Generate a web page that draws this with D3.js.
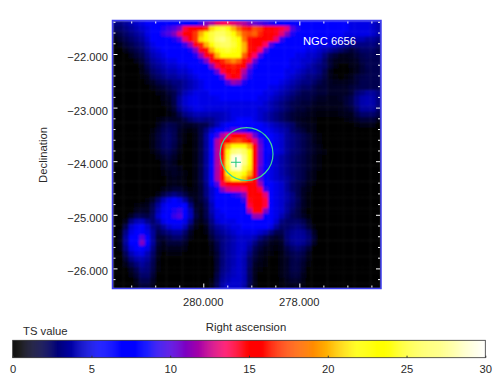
<!DOCTYPE html>
<html>
<head>
<meta charset="utf-8">
<script src="https://cdn.jsdelivr.net/npm/d3@7"></script>
<style>
  html, body { margin: 0; padding: 0; background: #fff; }
  text { font-family: "Liberation Sans", Arial, sans-serif; fill: #2a2a2a; }
</style>
</head>
<body>
<svg id="chart" width="500" height="392"></svg>
<script>
// TS map, one row per declination bin (top to bottom)
const tsMap = [
[3,3,3.5,4,4.5,5,5.5,5.5,5.5,5.5,6,6,6.5,7,7.5,8.5,9.5,11,12,13,13.5,13.5,13,12.5,12,11,10.5,10,9.5,9,8.5,8,7.5,7,6.5,6.5,6.5,6,6,6,6,6,5.5,5.5,5,5,5,5,4.5,4],
[2.5,2.5,3,3.5,4,4.5,5,6,8,9,9.5,10,11,14,15,15.5,15.5,16.5,21,24,25,23,20,18,16.5,16,17.5,17,15.5,15,14.5,14,13,10,9,8,7.5,7,6.5,6,6,6,5.5,5.5,5,5,5,5,4.5,4],
[1.5,2,2.5,3,3.5,4,5,6,8.5,9.5,10,11,13,15,15.5,17,20,22.5,25,26,26,25,23,20,18,17.5,18,16.5,15.5,15,14.5,13,11,9,8,7,6.5,6,6,6,6,5.5,5.5,5,5,5,5,5,4.5,4],
[1,1.5,2,2.5,3,3.5,4.5,5.5,6.5,7.5,8,9,10,13,15,17,21,23,25,26.5,27,26,24.5,22.5,18.5,16,15.5,15,15,14.8,13,9.5,8,7,6.5,6,5.5,5.5,5.5,5.5,5,5,5,4.5,4,4,4,3.5,3.5,3],
[.5,1,1.5,2,2.5,3,4,5,5.5,6,6.5,7,8,9.5,11.5,14.5,16.5,20,23,25.5,26,26,25,23.5,20,16,15.5,15,13.5,10,8.5,7.5,7,6.5,6,5.5,5.5,5.5,5,5,5,4.5,4,3.5,3,3,3,3,3,2.5],
[.3,.5,1,1.5,2,2.5,3.5,4.5,5,5.5,6,6,6.5,7.5,9,11,14.5,16,20,23,24.5,25,24,23,20,16,15,13.5,10,8.5,7.5,7,6.5,6,5.5,5.5,5,5,4.5,4,3.5,3,2.5,2,1.5,2,2.5,2.5,2.5,2],
[.2,.3,.5,1,1.5,2,3,4,4.5,5,5.5,5.5,6,6.5,8,9,11.5,14.5,16,20,22.5,23,23,22,18,15.5,13.5,10,8,7,6.5,6,5.5,5.5,5,5,4.5,4.5,4,3,2,1.5,1,1,1.2,1.5,2,2.2,2.2,2],
[.1,.2,.3,.5,1,1.5,2.5,3.5,4,4.5,5,5,5.5,6,6.5,7.5,9,11,14.5,15.5,16.5,18,19,18,16,14,10.5,8.5,7,6.5,6,5.5,5.5,5,5,4.5,4.5,4,3.5,2.5,1.5,1,.8,.8,1,1.2,1.8,2,2,2],
[0,.1,.2,.3,.5,1,2,3,3.5,4,4.5,4.5,5,5,5.5,6,7.5,8.5,11,14,15.5,16,16.5,16,14.8,11,9,7.5,6.5,6,5.5,5.5,5.5,5,5,4.5,4,3.5,3,2.5,1.5,.8,.5,.5,.8,1,1.5,2,2,2],
[0,0,.1,.2,.4,.8,1.5,2.5,3,3.5,4,4,4.5,4.5,5,5.5,6,7,8.5,10.5,14,15.5,16,15.5,12,9.5,8,7,6.5,6,5.5,5.5,5,5,4.5,4,3.5,3.5,3,2,1,.5,.4,.4,.6,1,1.5,1.8,2,2],
[0,0,0,.1,.3,.6,1,2,2.5,3,3.5,3.5,4,4,4.5,5,5.5,6,7,8,10,14,15,14.5,11,9,7.5,6.5,6,5.5,5.5,5.5,5,4.5,4,3.5,3,3,2.5,1.8,1,.6,.5,.6,1,1.5,1.8,2,2,2],
[0,0,0,.1,.2,.4,.8,1.2,1.8,2.2,2.5,3,3,3.5,4,4.5,5,5.5,6,6.5,8,10,11.5,11,9,7.5,6.5,6,5.5,5.5,5.5,5,4.5,4,3.5,3,3,2.5,2,1.5,1.2,1,1,1,1.2,1.5,2,2,2,2],
[0,0,0,0,.1,.3,.5,.8,1.2,1.5,2,2.5,3,3.5,4,4.5,5,5.5,5.5,6,6.5,7.5,8.5,8.5,7.5,7,6.5,6,5.5,5,5,4.5,4,3.5,3,2.5,2.5,2,1.5,1.5,1.2,1.2,1.2,1.2,1.5,1.8,2,2,2,2],
[0,0,0,0,.1,.2,.3,.5,.8,1,1.5,2,3,4,4.5,5,5,5,5.5,5.5,6,6.5,7,7,6.5,6,6,5.5,5,5,4.5,4,3.5,3,2.5,2,2,1.8,1.5,1.5,1.2,1.2,1.2,1.2,1.5,2.5,3,3.5,3.5,3],
[0,0,0,0,0,.1,.2,.3,.5,.8,1.2,2,3.5,4.5,5,5.2,5,5,5,5.2,5.5,5.5,5.5,5.5,5.5,5.5,5.5,5,5,4.5,4,3.5,3,2.5,2,1.8,1.8,1.5,1.2,1.2,1,1,1.2,1.5,2,3,3.8,4,3.8,3],
[0,0,0,0,0,.1,.1,.2,.4,.6,1,1.8,3.5,4.5,5,5.2,5,5,5,5,5,5,5,5,5,5,5,5,4.5,4,3.5,3,2.5,2,1.8,1.5,1.5,1.2,1,1,1,1,1,1.5,2,3,3.8,4,3.8,3],
[0,0,0,0,0,0,.1,.2,.3,.5,.8,1.5,3,4,4.5,5,5,4.8,4.8,4.8,4.8,4.8,5,5,5,5,5,4.5,4.5,4,3.5,3,2.5,2,1.5,1.5,1.2,1,.8,.8,.8,.8,1,1.2,1.5,2.5,3.5,3.5,3.5,2.5],
[0,0,0,0,0,0,.1,.2,.3,.5,.7,1,2,3,3.5,4,4,4,4,4,4.2,4.5,5,5,5,5,5,4.5,4,3.5,3,2.5,2,1.5,1.3,1.2,1,.8,.6,.6,.6,.6,.8,1,1,1.8,2.5,2.5,2.5,2],
[0,0,0,0,0,0,.1,.3,.6,1,1.2,1.2,1.3,1.8,2.5,3,3.2,3,3.2,3.8,4.2,4.5,5,5.5,5.5,5.5,5,4.5,4,3.5,3,2.5,2,1.5,1.2,1,.8,.6,.5,.4,.4,.4,.5,.6,.8,1.2,1.5,1.5,1.5,1],
[0,0,0,0,0,0,.1,.4,1,1.6,2,1.8,1.4,1.2,1.2,1.4,1.8,2,3,4,5,5.5,6,7,7.5,7.5,6.5,5.5,5,4.5,4,3.5,3,2.5,1.5,1.2,1,.8,.5,.3,.3,.3,.3,.3,.4,.6,.8,.8,.8,.5],
[0,0,0,0,0,0,.2,.6,1.3,2,2.3,2,1.2,.8,.6,1,1.8,3,4.5,6,7.5,9,10,10,9.5,8,7,6,5.5,5,4.5,4,3.5,2.5,2,1.5,1,.8,.5,.3,.2,.2,.2,.2,.2,.3,.4,.4,.3,.2],
[0,0,0,0,0,0,.3,.8,1.5,2.2,2.5,2,1.1,.6,.4,.8,1.8,3.5,6,9.5,12,13.5,15,15,14.5,13,10.5,8,6,5.5,5,4.5,3.5,3,2.5,2,1.5,1,.6,.3,.2,.2,.2,.2,.2,.2,.2,.2,.1,.1],
[0,0,0,0,0,0,.3,.8,1.5,2.2,2.5,2,1.2,.6,.4,.8,1.8,3.5,6,12,14.5,15,17,17.5,16.5,15,13,10,6.5,5.5,5,4.5,3.5,3,2.5,2,1.5,1,.6,.3,.2,.1,.1,.1,.1,.1,.1,.1,.1,.1],
[0,0,0,0,0,0,.3,.8,1.5,2.2,2.4,1.8,1,.5,.4,.8,1.8,3.5,6,12,15,20,23,23,23,20,15,10.5,6.5,5.5,5,4.5,3.5,3,2.5,2,1.5,1.2,.8,.5,.3,.2,.1,.1,.1,.1,.1,.1,.1,.1],
[0,0,0,0,0,0,.2,.6,1.2,1.8,2,1.5,.8,.4,.3,.8,1.8,3.5,6,12,15.5,22,26.5,27,26,22,15,10.5,6.5,5.5,5,4.5,3.5,2.8,2.5,2,1.5,1.2,.8,.6,.4,.2,.1,.1,.1,.1,.1,.1,.1,.1],
[0,0,0,0,0,0,.1,.3,.8,1.3,1.6,1.2,.6,.3,.3,.8,1.8,3.5,6,12,16,24,29,29.5,27,22.5,15,10.5,6.5,5,4.5,3.8,3.2,2.6,2.2,1.8,1.4,1,.7,.5,.3,.1,.1,0,0,0,0,0,0,0],
[0,0,0,0,0,0,.1,.2,.5,1,1.3,1,.5,.3,.3,.8,1.8,3.5,6,12,16.5,25,29.5,30,27,22,15,10.5,6.5,5,4.5,3.8,3.2,2.6,2.2,1.8,1.4,1,.7,.5,.3,.1,0,0,0,0,0,0,0,0],
[0,0,0,0,0,0,.1,.2,.5,.8,1.2,1.2,.8,.5,.3,.8,1.8,3.5,6,12,16,24,28.5,29,25.5,21.5,15,10,6.5,5,4.5,3.8,3.2,2.6,2.2,1.8,1.4,1,.6,.4,.2,.1,0,0,0,0,0,0,0,0],
[0,0,0,0,0,0,.1,.2,.4,.6,1,1.2,1,.7,.4,.8,1.8,3.5,6,12,15.5,22,24.5,25,23.5,20,15,10,6,5,4.5,3.8,3.2,2.6,2.2,1.8,1.2,.8,.5,.3,.1,0,0,0,0,0,0,0,0,0],
[0,0,0,0,0,0,.1,.2,.3,.5,.8,1,.8,.6,.4,.8,1.8,3.5,6,12,15,20,22,22,20.5,17.5,15,10,6,5,4.5,4,3.5,2.8,2.2,1.8,1.2,.8,.5,.3,.1,0,0,0,0,0,0,0,0,0],
[0,0,0,0,0,0,.1,.2,.3,.5,.8,1,.9,.6,.4,.8,1.6,3.2,5.5,10,14,15,15.3,15.3,15.3,15.3,15,11.5,7.5,5.5,5,4.5,3.5,2.5,2,1.5,1,.6,.3,.2,.1,0,0,0,0,0,0,0,0,0],
[0,0,0,0,0,0,0,.1,.3,.8,1.2,1.5,1.5,1,.6,.8,1.5,3,4.5,7.5,11,12.5,13,13,13.5,15,15.5,14,9.5,6,5,4.5,3.5,2.5,2,1.2,.8,.4,.2,.1,0,0,0,0,0,0,0,0,0,0],
[0,0,0,0,0,0,0,.2,.8,1.8,2.5,3,2.5,1.8,1,1,1.5,3,4.5,6,7.5,8.5,9,9.5,11,14.8,15.5,15.3,13,7.5,5,4.5,3.8,3,2,1.2,.6,.3,.1,0,0,0,0,0,0,0,0,0,0,0],
[0,0,.1,.2,.3,.4,.6,1.2,2.5,4,5,5.5,5,3.5,1.8,1,1.5,2.5,4.5,5.5,6,6.5,7,7.5,9.5,14.5,15.5,15.5,14,8,5,4.5,3.8,3,2.2,1.2,.6,.3,.1,0,0,0,0,0,0,0,0,0,0,0],
[0,0,.2,.3,.6,.8,1,2,3.5,5,6,7,6.5,5.5,3,1.2,1.2,2.2,4,5.5,5.5,6,6,6.5,8,14,15.5,15.5,14,7.5,5,4.5,3.5,2.8,2,1.2,.6,.3,.1,0,0,0,0,0,0,0,0,0,0,0],
[0,0,.2,.5,1,1.2,1.2,2.2,4,5.2,6.5,9,9.5,6,4,1.5,1,2,4,5,5.5,5.5,5.5,6,7,12,15.3,15.3,11,6.5,5,4.5,3.5,2.5,1.8,1,.5,.2,.1,0,0,0,0,0,0,0,0,0,0,0],
[0,0,.5,1.2,2,2,1.8,2.5,4.5,5.5,6.5,9.5,10,6,4.2,1.8,1,2,3.5,5,5,5.5,5.5,5.5,6,8.5,11.5,11.5,8.5,6,5,4,3,2.2,1.8,1.2,.6,.2,.1,0,0,0,0,0,0,0,0,0,0,0],
[0,.3,1,3,4,4.2,3.2,2.5,3.5,5,5.5,6.5,6.5,5,3.2,1.2,.8,1.5,3,4.5,5,5,5,5.5,5.5,7,8.5,8.5,7,5.5,4.5,3,2.5,2.5,2.5,2,1.2,.4,.1,0,0,0,0,0,0,0,0,0,0,0],
[0,.5,2,4.5,5.2,5.5,4.5,3,2.5,3.5,4.5,5,5,4,2,.8,.5,1,2.5,3.5,4,4.5,5,5,5.5,6,6.5,6.5,6,5,3.5,2.5,2.5,2.8,3,2.5,1.5,.6,.1,0,0,0,0,0,0,0,0,0,0,0],
[0,.8,3,5,6,6.5,5,3.5,2,2.5,3,3.5,3.5,2.5,1.2,.5,.3,.8,2,3,3.5,4,4.5,5,5,5,5,4.5,4,3,2,2,2.8,3.3,3.5,3.3,2.5,1.2,.3,0,0,0,0,0,0,0,0,0,0,0],
[0,1,3.5,5.5,8,10,5.5,3.5,1.5,1.5,2,2.5,2.5,1.8,.8,.3,.2,.5,1.5,2.5,3,3.5,4,4.5,4.5,4.5,4,3,2.2,1.5,1.2,1.5,2.8,3.5,3.6,3.5,2.8,1.5,.4,0,0,0,0,0,0,0,0,0,0,0],
[0,1,3.5,5.5,8.5,11,5.5,3.5,1.5,1,1.5,1.5,1.5,1.2,.5,.2,.1,.3,1,2,3,3.5,4,4.5,4.5,4,3,2,1.5,1,.8,1.2,2.5,3.2,3.5,3.2,2.5,1.2,.2,0,0,0,0,0,0,0,0,0,0,0],
[0,.8,3,5,5.5,5.5,5,3,1.2,.8,1,1,1,.8,.3,.1,0,.2,.8,1.8,3,3.5,4,4.5,4.5,3.5,2.2,1.5,1,.8,.6,1,1.8,2.5,2.8,2.3,1.5,.5,.1,0,0,0,0,0,0,0,0,0,0,0],
[0,.5,2.2,4,4.8,5,4,2.5,1,.5,.6,.6,.6,.5,.2,.1,0,.1,.6,1.5,2.8,3.5,4,4.5,4.2,3,1.8,1.2,.8,.6,.5,.8,1.5,2,2.2,1.8,1,.3,.1,0,0,0,0,0,0,0,0,0,0,0],
[0,.3,1.5,3,3.8,4,3.5,2.2,.8,.4,.4,.3,.3,.2,.1,0,0,.1,.5,1.5,2.8,3.5,4,4.5,4,2.5,1.5,1,.6,.5,.5,.8,1.2,1.8,2,1.5,.8,.2,0,0,0,0,0,0,0,0,0,0,0,0],
[0,.2,1,2,2.8,3.5,3,2,.7,.3,.2,.2,.1,.1,0,0,0,.1,.4,1.5,2.8,3.5,4,4.5,4,2.5,1.2,.8,.6,.5,.5,.8,1.2,1.8,1.8,1.3,.6,.2,0,0,0,0,0,0,0,0,0,0,0,0],
[0,.1,.5,1.2,2,3,2.8,1.8,.6,.2,.1,.1,0,0,0,0,0,.1,.4,1.5,3,3.5,4.2,4.5,4,2.2,1,.6,.5,.5,.5,.8,1.2,1.8,1.8,1.2,.5,.1,0,0,0,0,0,0,0,0,0,0,0,0],
[0,0,.2,.8,1.5,2.5,2.5,1.5,.5,.2,.1,0,0,0,0,0,0,.1,.5,1.8,3.2,3.8,4.2,4.5,4,2.2,1,.5,.4,.4,.5,.8,1.2,1.6,1.6,1,.4,.1,0,0,0,0,0,0,0,0,0,0,0,0],
[0,0,.1,.5,1,2,2,1.2,.4,.1,0,0,0,0,0,0,0,.2,.7,2,3.5,4,4.5,4.5,4,2.2,1,.5,.4,.4,.5,.7,1,1.3,1.3,.8,.3,.1,0,0,0,0,0,0,0,0,0,0,0,0],
[0,0,.1,.3,.8,1.5,1.5,1,.3,.1,0,0,0,0,0,0,0,.2,.8,2.2,3.8,4.5,4.5,4.5,3.8,2,.8,.4,.3,.4,.5,.6,.8,1,1,.6,.2,.1,0,0,0,0,0,0,0,0,0,0,0,0]
];
const gridSize = 50;

// axis ticks
const raMajor = [280, 278];
const raMinor = [281.5, 281, 280.5, 279.5, 279, 278.5, 277.5, 277, 276.5];
const decMajor = [-22, -23, -24, -25, -26];
const decMinor = [-21.4, -21.6, -21.8, -22.2, -22.4, -22.6, -22.8, -23.2, -23.4, -23.6, -23.8,
  -24.2, -24.4, -24.6, -24.8, -25.2, -25.4, -25.6, -25.8, -26.2];
const barTicks = [0, 5, 10, 15, 20, 25, 30];

// colour table of the TS scale
const colorStops = [0, 0.4, 5.5, 8.5, 10, 12, 13.5, 14.8, 15.7, 21.8, 23.5, 30];
const colorValues = ["#000000", "#000000", "#0000ff", "#0000ff", "#5000e0", "#b000a0", "#ff0060", "#ff0000", "#ff0000", "#ffff00", "#ffff00", "#ffffff"];

// source position and region of interest (degrees)
const sourceRa = 279.32, sourceDec = -24.02;
const roiRa = 279.1, roiDec = -23.866, roiRadius = 0.494;

const margin = {top: 20.5, left: 112.5, right: 381, bottom: 288.5};
const bar = {left: 12.7, right: 485.3, top: 340.3, bottom: 357.7};

const svg = d3.select("#chart");
const color = d3.scaleLinear().domain(colorStops).range(colorValues).clamp(true);

const x = d3.scaleLinear().domain([281.89, 276.3]).range([margin.left, margin.right]);
const y = d3.scaleLinear().domain([-21.375, -26.375]).range([margin.top, margin.bottom]);
const col = d3.scaleBand().domain(d3.range(gridSize)).range([margin.left, margin.right]);
const row = d3.scaleBand().domain(d3.range(gridSize)).range([margin.top, margin.bottom]);

const defs = svg.append("defs");
defs.append("clipPath").attr("id", "plotClip").append("rect")
    .attr("x", margin.left).attr("y", margin.top)
    .attr("width", margin.right - margin.left).attr("height", margin.bottom - margin.top);
defs.append("filter").attr("id", "soft")
    .attr("x", 0).attr("y", 0).attr("width", 1).attr("height", 1)
    .append("feGaussianBlur").attr("stdDeviation", 1);

// map cells
const plot = svg.append("g").attr("clip-path", "url(#plotClip)");
const cells = plot.append("g").attr("filter", "url(#soft)");
tsMap.forEach((values, i) => {
    cells.selectAll(null)
        .data(values)
        .enter().append("rect")
        .attr("x", (d, j) => col(j))
        .attr("y", row(i))
        .attr("width", col.bandwidth() + 0.5)
        .attr("height", row.bandwidth() + 0.5)
        .attr("fill", d => color(d));
});

// frame
svg.append("rect")
    .attr("x", margin.left).attr("y", margin.top)
    .attr("width", margin.right - margin.left).attr("height", margin.bottom - margin.top)
    .attr("fill", "none").attr("stroke", "#3c3cf0").attr("stroke-width", 1.5);

// white tick marks on all four sides
function tickMarks(axis, ticks, size) {
    const g = svg.append("g").call(axis.tickValues(ticks).tickSize(size).tickFormat(""));
    g.select(".domain").remove();
    g.selectAll("line").attr("stroke", "#fff").attr("stroke-width", 1);
    return g;
}
tickMarks(d3.axisBottom(x), raMajor, -4).attr("transform", `translate(0,${margin.bottom - 1})`);
tickMarks(d3.axisBottom(x), raMinor, -2).attr("transform", `translate(0,${margin.bottom - 1})`);
tickMarks(d3.axisTop(x), raMajor, -4).attr("transform", `translate(0,${margin.top + 1})`);
tickMarks(d3.axisTop(x), raMinor, -2).attr("transform", `translate(0,${margin.top + 1})`);
tickMarks(d3.axisLeft(y), decMajor, -4).attr("transform", `translate(${margin.left + 1},0)`);
tickMarks(d3.axisLeft(y), decMinor, -2).attr("transform", `translate(${margin.left + 1},0)`);
tickMarks(d3.axisRight(y), decMajor, -4).attr("transform", `translate(${margin.right - 1},0)`);
tickMarks(d3.axisRight(y), decMinor, -2).attr("transform", `translate(${margin.right - 1},0)`);

// tick labels
const fmt = d3.format(".3f");
svg.selectAll(".ra-label")
    .data(raMajor)
    .enter().append("text")
    .attr("x", d => x(d)).attr("y", 306)
    .attr("text-anchor", "middle").attr("font-size", 11.2)
    .text(fmt);
svg.selectAll(".dec-label")
    .data(decMajor)
    .enter().append("text")
    .attr("x", 108).attr("y", d => y(d) + 7)
    .attr("text-anchor", "end").attr("font-size", 11.2)
    .text(fmt);

svg.append("text").attr("x", 246).attr("y", 331)
    .attr("text-anchor", "middle").attr("font-size", 11.3).text("Right ascension");
svg.append("text")
    .attr("transform", "translate(47,155) rotate(-90)")
    .attr("text-anchor", "middle").attr("font-size", 11.3).text("Declination");
svg.append("text").attr("x", 303).attr("y", 44.5)
    .attr("font-size", 11.2).style("fill", "#fff").text("NGC 6656");

// region circle and source cross
svg.append("circle")
    .attr("cx", x(roiRa)).attr("cy", y(roiDec))
    .attr("r", y(roiDec - roiRadius) - y(roiDec))
    .attr("fill", "none").attr("stroke", "#3fd598").attr("stroke-width", 1.2);
const crossPath = d3.path();
crossPath.moveTo(x(sourceRa) - 5, y(sourceDec));
crossPath.lineTo(x(sourceRa) + 5, y(sourceDec));
crossPath.moveTo(x(sourceRa), y(sourceDec) - 5);
crossPath.lineTo(x(sourceRa), y(sourceDec) + 5);
svg.append("path").attr("d", crossPath.toString())
    .attr("fill", "none").attr("stroke", "#20c878").attr("stroke-width", 1);

// colour bar
const barX = d3.scaleLinear().domain([0, 30]).range([bar.left, bar.right]);
svg.append("g").selectAll("rect")
    .data(d3.range(0, 30, 30 / 480))
    .enter().append("rect")
    .attr("x", d => barX(d)).attr("y", bar.top)
    .attr("width", 1.2).attr("height", bar.bottom - bar.top)
    .attr("fill", d => color(d));
svg.append("rect")
    .attr("x", bar.left).attr("y", bar.top)
    .attr("width", bar.right - bar.left).attr("height", bar.bottom - bar.top)
    .attr("fill", "none").attr("stroke", "#333").attr("stroke-width", 0.8);
const barAxis = svg.append("g")
    .attr("transform", `translate(0,${bar.bottom})`)
    .call(d3.axisBottom(barX).tickValues(barTicks).tickSize(-2).tickFormat(d3.format("d")));
barAxis.select(".domain").remove();
barAxis.selectAll("line").attr("stroke", "#333");
barAxis.selectAll("text").attr("y", 15.5).attr("dy", null).attr("font-size", 11.2)
    .attr("font-family", null);
svg.append("text").attr("x", 23).attr("y", 335).attr("font-size", 11.3).text("TS value");
</script>
</body>
</html>
